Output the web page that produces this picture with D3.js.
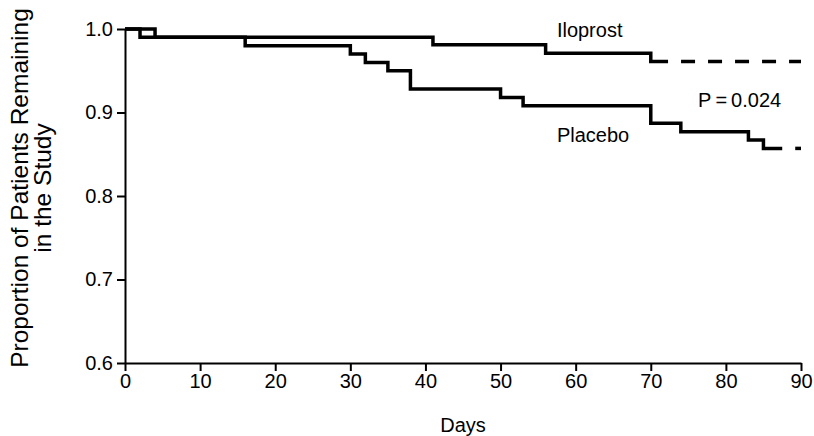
<!DOCTYPE html>
<html>
<head>
<meta charset="utf-8">
<script src="https://cdn.jsdelivr.net/npm/d3@7"></script>
<style>
  body { margin: 0; background: #fff; }
  svg text { font-family: "Liberation Sans", Arial, sans-serif; fill: #000; }
</style>
</head>
<body>
<div id="chart"></div>
<script>
const CANVAS_MARGIN = {
  top: 29,
  right: 13,
  bottom: 73,
  left: 125
};
const CANVAS_WIDTH = 814;
const CANVAS_HEIGHT = 436;
const CHART_WIDTH = CANVAS_WIDTH - CANVAS_MARGIN.left - CANVAS_MARGIN.right;
const CHART_HEIGHT = CANVAS_HEIGHT - CANVAS_MARGIN.top - CANVAS_MARGIN.bottom;
const LINE_WIDTH = 3.5;
const DASH = '14 13';

// x ticks and y ticks
const X_TICKS = [0, 10, 20, 30, 40, 50, 60, 70, 80, 90];
const Y_TICKS = [0.6, 0.7, 0.8, 0.9, 1.0];

// Iloprost steps (solid part), then dashed to the end of follow-up
const ILOPROST_DAYS = [0, 4, 41, 56, 70, 72.3];
const ILOPROST_PROP = [1.0, 0.99, 0.981, 0.971, 0.961, 0.961];
const ILOPROST_DASH_DAYS = [72.3, 90];

// Placebo steps (solid part), then dashed
const PLACEBO_DAYS = [0, 2, 16, 30, 32, 35, 38, 50, 53, 70, 74, 83, 85, 87.5];
const PLACEBO_PROP = [1.0, 0.99, 0.98, 0.97, 0.96, 0.95, 0.928, 0.918, 0.908, 0.887, 0.877, 0.867, 0.857, 0.857];
const PLACEBO_DASH_DAYS = [87.5, 90];

const svg = d3.select('#chart')
  .append('svg')
    .attr('width', CANVAS_WIDTH)
    .attr('height', CANVAS_HEIGHT);

const g = svg.append('g')
  .attr('transform', `translate(${CANVAS_MARGIN.left}, ${CANVAS_MARGIN.top})`);

const x = d3.scaleLinear().domain([0, 90]).range([0, CHART_WIDTH]);
const y = d3.scaleLinear().domain([0.6, 1.0]).range([CHART_HEIGHT, 0]);

// axes
const xAxis = g.append('g')
  .attr('transform', `translate(0, ${CHART_HEIGHT})`)
  .call(d3.axisBottom(x).tickValues(X_TICKS).tickSize(8).tickSizeOuter(0).tickPadding(3));
const yAxis = g.append('g')
  .call(d3.axisLeft(y).tickValues(Y_TICKS).tickFormat(d3.format('.1f')).tickSize(8).tickSizeOuter(0).tickPadding(4));

[xAxis, yAxis].forEach(a => {
  a.selectAll('path, line').attr('stroke', '#000').attr('stroke-width', 2);
  a.selectAll('text').attr('font-size', 20).attr('font-family', '"Liberation Sans", Arial, sans-serif');
});

// step lines
const line = d3.line()
  .x(d => x(d[0]))
  .y(d => y(d[1]))
  .curve(d3.curveStepAfter);

function drawSeries (days, props, dashDays) {
  g.append('path')
    .datum(days.map((d, i) => [d, props[i]]))
    .attr('fill', 'none')
    .attr('stroke', '#000')
    .attr('stroke-width', LINE_WIDTH)
    .attr('d', line);
  const last = props[props.length - 1];
  g.append('path')
    .datum(dashDays.map(d => [d, last]))
    .attr('fill', 'none')
    .attr('stroke', '#000')
    .attr('stroke-width', LINE_WIDTH)
    .attr('stroke-dasharray', DASH)
    .attr('stroke-dashoffset', 14)
    .attr('d', line);
}

drawSeries(PLACEBO_DAYS, PLACEBO_PROP, PLACEBO_DASH_DAYS);
drawSeries(ILOPROST_DAYS, ILOPROST_PROP, ILOPROST_DASH_DAYS);

// annotations
g.append('text').attr('x', x(57.5)).attr('y', y(0.99)).attr('font-size', 20).text('Iloprost');
g.append('text').attr('x', x(76.3)).attr('y', y(0.907)).attr('font-size', 20).text('P\u2009=\u20090.024');
g.append('text').attr('x', x(57.5)).attr('y', y(0.865)).attr('font-size', 20).text('Placebo');

// axis titles
svg.append('text')
  .attr('x', CANVAS_MARGIN.left + x(45))
  .attr('y', CANVAS_HEIGHT - 4)
  .attr('text-anchor', 'middle')
  .attr('font-size', 20)
  .text('Days');

const yTitle = svg.append('text')
  .attr('transform', 'translate(28, 188) rotate(-90)')
  .attr('text-anchor', 'middle')
  .attr('font-size', 24.5);
yTitle.append('tspan').attr('x', 0).attr('dy', 0).text('Proportion of Patients Remaining');
yTitle.append('tspan').attr('x', 0).attr('dy', 23).text('in the Study');
</script>
</body>
</html>
